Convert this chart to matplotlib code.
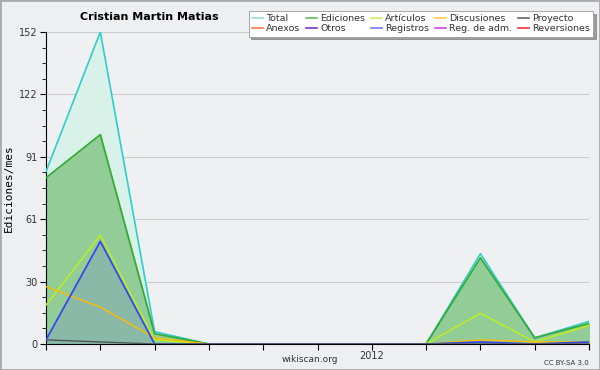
import matplotlib
matplotlib.use("Agg")
import matplotlib.pyplot as plt
from matplotlib.patches import Rectangle

months = list(range(11))
total      = [84, 152, 6, 0, 0, 0, 0, 0, 44, 3, 11]
ediciones  = [81, 102, 5, 0, 0, 0, 0, 0, 42, 3, 10]
articulos  = [19, 53, 2, 0, 0, 0, 0, 0, 15, 1, 9]
discusiones= [28, 18, 3, 0, 0, 0, 0, 0, 2, 1, 1]
registros  = [2, 50, 0, 0, 0, 0, 0, 0, 1, 0, 1]
proyecto   = [2, 1, 0, 0, 0, 0, 0, 0, 0, 0, 0]
yticks = [0, 30, 61, 91, 122, 152]
legend_names = ["Total", "Ediciones", "Artículos", "Discusiones", "Proyecto",
                "Anexos", "Otros", "Registros", "Reg. de adm.", "Reversiones"]
legend_colors = ["#99dddd", "#66bb66", "#ccee66", "#ffcc44", "#666666",
                 "#ff7744", "#7733cc", "#7777ff", "#cc44dd", "#ee3333"]

fig = plt.figure(figsize=(6, 3.7), dpi=100, facecolor="#eeeff0")
fig.patches.append(Rectangle((0, 0), 1, 1, transform=fig.transFigure, fill=False,
                             edgecolor="#aaaaaa", linewidth=2))
ax = fig.add_axes([46/600, 1-344/370, (589-46)/600, (344-32)/370])
ax.set_facecolor("#eff0f2")

ax.fill_between(months, total, color="#d8f2ea", zorder=1)
ax.plot(months, total, color="#33cccc", lw=1.2, zorder=3)
ax.fill_between(months, ediciones, color="#92cc96", zorder=2)
ax.plot(months, ediciones, color="#33aa33", lw=1.2, zorder=3)
ax.fill_between(months, registros, color="#6666ff", alpha=0.18, zorder=2.5)
ax.plot(months, articulos, color="#bbee22", lw=1.1, zorder=4)
ax.plot(months, discusiones, color="#ffbb00", lw=1.0, zorder=4)
ax.plot(months, registros, color="#3344ee", lw=1.2, zorder=4)
ax.plot(months, proyecto, color="#555555", lw=1.0, zorder=4)

ax.set_xlim(0, 10)
ax.set_ylim(0, 152)
ax.set_yticks(yticks)
ax.set_yticks([y * 152 / 20 for y in range(21)], minor=True)
ax.set_xticks(months)
ax.set_xticklabels(["", "", "", "", "", "", "2012", "", "", "", ""])
ax.yaxis.grid(True, color="#cccccc", lw=0.8)
ax.set_axisbelow(True)
for s in ["top", "right"]:
    ax.spines[s].set_visible(False)
ax.tick_params(axis="both", labelsize=7, length=4, color="black", pad=2, labelcolor="#333333")
ax.tick_params(axis="y", which="minor", length=3)
ax.tick_params(axis="x", length=4, pad=1)
ax.set_ylabel("Ediciones/mes", fontsize=8, family="DejaVu Sans Mono", labelpad=4)

fig.text(149/600, 1-17/370, "Cristian Martin Matias", fontsize=8, weight="bold",
         ha="center", va="center")
fig.text(310/600, 1-360/370, "wikiscan.org", fontsize=6.5, ha="center", va="center", color="#333333")
fig.text(589/600, 1-363/370, "CC BY-SA 3.0", fontsize=5, ha="right", va="center", color="#333333")

handles = [plt.Line2D([], [], color=c, lw=1.2) for c in legend_colors]
order = [0, 5, 1, 6, 2, 7, 3, 8, 4, 9]
leg = fig.legend([handles[i] for i in order], [legend_names[i] for i in order],
                 ncol=5, loc="upper right",
                 bbox_to_anchor=(593/600, 1-11/370), fontsize=6.8, frameon=True,
                 fancybox=False, shadow=True, handlelength=1.2, handletextpad=0.3,
                 columnspacing=0.6, labelspacing=0.1, borderpad=0.35, borderaxespad=0)
leg.get_frame().set_edgecolor("#999999")
leg.get_frame().set_linewidth(0.6)
for t in leg.get_texts():
    t.set_color("#333333")

fig.savefig("out.png", dpi=100, facecolor=fig.get_facecolor())
